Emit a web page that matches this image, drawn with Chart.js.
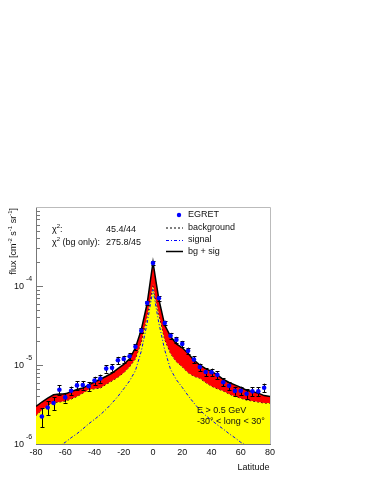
<!DOCTYPE html>
<html><head><meta charset="utf-8">
<script src="https://cdn.jsdelivr.net/npm/chart.js@4/dist/chart.umd.min.js"></script>
<style>html,body{margin:0;padding:0;background:#fff;overflow:hidden}</style>
</head><body>
<canvas id="c" width="369" height="477" style="display:block;width:369px;height:477px"></canvas>
<script>
// ---- data ----
const curveLat = [-80,-76,-72,-68,-64,-60,-56,-52,-48,-44,-40,-36,-32,-28,-24,-20,-16,-12,-8,-4,-2,0,2,4,8,12,16,20,24,28,32,36,40,44,48,52,56,60,64,68,72,76,80];
const background = [2.3e-6,2.7e-6,3.1e-6,3.35e-6,3.4e-6,3.5e-6,3.7e-6,4.0e-6,4.4e-6,4.9e-6,5.0e-6,5.1e-6,5.7e-6,6.3e-6,7.0e-6,8.0e-6,9.5e-6,1.2e-5,1.95e-5,4.2e-5,6.5e-5,1.05e-4,6.5e-5,4.4e-5,2.1e-5,1.4e-5,1.1e-5,9.5e-6,8.0e-6,7.2e-6,6.8e-6,6.0e-6,5.4e-6,5.0e-6,4.7e-6,4.3e-6,4.0e-6,3.8e-6,3.6e-6,3.5e-6,3.4e-6,3.3e-6,3.3e-6];
const bgPlusSig = [3.0e-6,3.4e-6,3.8e-6,4.2e-6,4.3e-6,4.3e-6,4.6e-6,4.9e-6,5.1e-6,5.6e-6,6.1e-6,6.6e-6,7.2e-6,7.9e-6,9.0e-6,1.02e-5,1.2e-5,1.65e-5,2.8e-5,6.0e-5,1.1e-4,2.0e-4,1.15e-4,6.8e-5,3.2e-5,2.3e-5,1.85e-5,1.65e-5,1.4e-5,1.15e-5,1.0e-5,9.0e-6,8.3e-6,7.5e-6,6.6e-6,6.0e-6,5.6e-6,5.2e-6,4.8e-6,4.6e-6,4.4e-6,4.1e-6,4.0e-6];
const signal = [6.5e-7,7.2e-7,7.8e-7,8.5e-7,9.5e-7,1.05e-6,1.2e-6,1.35e-6,1.55e-6,1.8e-6,2.05e-6,2.35e-6,2.75e-6,3.3e-6,4.0e-6,5.0e-6,6.3e-6,8.5e-6,1.5e-5,3.4e-5,5.5e-5,9.0e-5,5.5e-5,3.4e-5,1.55e-5,8.8e-6,6.5e-6,5.2e-6,4.1e-6,3.3e-6,2.7e-6,2.3e-6,2.0e-6,1.75e-6,1.55e-6,1.35e-6,1.2e-6,1.05e-6,9.5e-7,8.5e-7,7.8e-7,7.2e-7,6.5e-7];

const egretLat = [-76,-72,-68,-64,-60,-56,-52,-48,-44,-40,-36,-32,-28,-24,-20,-16,-12,-8,-4,0,4,8,12,16,20,24,28,32,36,40,44,48,52,56,60,64,68,72,76];
const egretFlux = [2.23e-6,2.9e-6,3.3e-6,4.86e-6,3.89e-6,4.73e-6,5.52e-6,5.58e-6,5.4e-6,6.35e-6,6.75e-6,9.0e-6,9.2e-6,1.15e-5,1.19e-5,1.29e-5,1.7e-5,2.72e-5,6.1e-5,1.95e-4,7.0e-5,3.4e-5,2.35e-5,2.08e-5,1.85e-5,1.51e-5,1.17e-5,9.4e-6,8.15e-6,8.1e-6,7.5e-6,6.05e-6,5.45e-6,4.7e-6,4.72e-6,4.33e-6,4.64e-6,4.64e-6,5.16e-6];
const egretErr = [0.6e-6,0.6e-6,0.6e-6,0.7e-6,0.55e-6,0.6e-6,0.7e-6,0.7e-6,0.7e-6,0.75e-6,0.8e-6,1.0e-6,1.0e-6,1.2e-6,1.2e-6,1.3e-6,1.5e-6,2.0e-6,4.0e-6,1.2e-5,4.5e-6,2.3e-6,2.0e-6,1.9e-6,1.7e-6,1.5e-6,1.2e-6,1.0e-6,0.9e-6,0.9e-6,0.85e-6,0.7e-6,0.65e-6,0.6e-6,0.6e-6,0.6e-6,0.6e-6,0.6e-6,0.65e-6];

const xTicks = [-80,-60,-40,-20,0,20,40,60,80];
const yTickValues = [1e-6,1e-5,1e-4];
const yTickExponents = ['-6','-5','-4'];
const legendLabels = ['EGRET','background','signal','bg + sig'];
const chiValues = ['45.4/44','275.8/45'];
const annotationLines = ['E > 0.5 GeV','-30\u00B0 < long < 30\u00B0'];
const xTitle = 'Latitude';

const FONT = '"Liberation Sans", Arial, Helvetica, sans-serif';
const BLUE = '#0000ff';

const pts = (xs, ys) => xs.map((x, i) => ({x: x, y: ys[i]}));

const decor = {
  id: 'decor',
  beforeDatasetsDraw(chart) {
    const ctx = chart.ctx, xs = chart.scales.x, ys = chart.scales.y, a = chart.chartArea;
    ctx.save();
    ctx.strokeStyle = '#777'; ctx.lineWidth = 1;
    ctx.beginPath();
    for (let e = -6; e < -3; e++) {
      for (let k = 1; k <= 9; k++) {
        const v = k * Math.pow(10, e);
        const py = Math.round(ys.getPixelForValue(v)) + 0.5;
        const len = k === 1 ? 7 : 4;
        ctx.moveTo(a.left, py); ctx.lineTo(a.left + len, py);
      }
    }
    for (let v = -80; v <= 80; v += 4) {
      const px = Math.round(xs.getPixelForValue(v)) + 0.5;
      const len = (v % 20 === 0) ? 7 : 4;
      ctx.moveTo(px, a.bottom); ctx.lineTo(px, a.bottom - len);
    }
    ctx.stroke();
    ctx.restore();
  },
  beforeDatasetDraw(chart, args) {
    if (args.index !== 3) return;
    const ctx = chart.ctx, xs = chart.scales.x, ys = chart.scales.y;
    ctx.save();
    ctx.strokeStyle = '#000'; ctx.lineWidth = 1;
    ctx.beginPath();
    egretLat.forEach((lat, i) => {
      const px = Math.round(xs.getPixelForValue(lat)) + 0.5;
      const y1 = ys.getPixelForValue(egretFlux[i] + egretErr[i]);
      const y2 = ys.getPixelForValue(egretFlux[i] - egretErr[i]);
      ctx.moveTo(px, y1); ctx.lineTo(px, y2);
      ctx.moveTo(px - 2, Math.round(y1) + 0.5); ctx.lineTo(px + 2, Math.round(y1) + 0.5);
      ctx.moveTo(px - 2, Math.round(y2) + 0.5); ctx.lineTo(px + 2, Math.round(y2) + 0.5);
    });
    ctx.stroke();
    ctx.restore();
  },
  afterDraw(chart) {
    const ctx = chart.ctx, xs = chart.scales.x, ys = chart.scales.y, a = chart.chartArea;
    ctx.save();
    // frame top/right
    ctx.strokeStyle = '#bbb'; ctx.lineWidth = 1;
    ctx.beginPath();
    ctx.moveTo(a.left, a.top + 0.5); ctx.lineTo(a.right + 0.5, a.top + 0.5);
    ctx.lineTo(a.right + 0.5, a.bottom);
    ctx.stroke();

    ctx.fillStyle = '#111';
    // x tick labels
    ctx.font = '9px ' + FONT; ctx.textAlign = 'center'; ctx.textBaseline = 'middle';
    xTicks.forEach(v => ctx.fillText(String(v), xs.getPixelForValue(v), 452.5));

    // y tick labels 10^n
    yTickValues.forEach((v, i) => {
      const py = ys.getPixelForValue(v);
      ctx.font = '9px ' + FONT; ctx.textAlign = 'right'; ctx.textBaseline = 'middle';
      ctx.fillText('10', 24, py + 1);
      ctx.font = '7px ' + FONT; ctx.textAlign = 'left';
      ctx.fillText(yTickExponents[i], 26, py - 7);
    });

    // y title
    const parts = [['flux [cm', 0], ['-2', 1], [' s', 0], ['-1', 1], [' sr', 0], ['-1', 1], [']', 0]];
    let total = 0;
    parts.forEach(p => { ctx.font = (p[1] ? '6px ' : '9px ') + FONT; total += ctx.measureText(p[0]).width; });
    ctx.save();
    ctx.translate(15.5, 208 + total);
    ctx.rotate(-Math.PI / 2);
    ctx.textAlign = 'left'; ctx.textBaseline = 'alphabetic';
    let x = 0;
    parts.forEach(p => {
      ctx.font = (p[1] ? '6px ' : '9px ') + FONT;
      ctx.fillText(p[0], x, p[1] ? -4 : 0);
      x += ctx.measureText(p[0]).width;
    });
    ctx.restore();

    // x title
    ctx.font = '9px ' + FONT; ctx.textAlign = 'right'; ctx.textBaseline = 'middle';
    ctx.fillText(xTitle, 269.5, 468);

    // chi2 block
    ctx.textAlign = 'left';
    const chiPrefix = [':', ' (bg only):'];
    [230, 243].forEach((cy, i) => {
      ctx.font = '9px ' + FONT;
      ctx.fillText('\u03C7', 52, cy);
      let cx = 52 + ctx.measureText('\u03C7').width;
      ctx.font = '6px ' + FONT;
      ctx.fillText('2', cx, cy - 4);
      cx += ctx.measureText('2').width;
      ctx.font = '9px ' + FONT;
      ctx.fillText(chiPrefix[i], cx, cy);
      ctx.fillText(chiValues[i], 106, cy);
    });

    // legend
    const ly = [215, 227.5, 240, 251.5];
    ctx.font = '9px ' + FONT; ctx.textAlign = 'left'; ctx.textBaseline = 'middle';
    legendLabels.forEach((t, i) => ctx.fillText(t, 188, ly[i]));
    ctx.fillStyle = BLUE;
    ctx.beginPath(); ctx.arc(179, ly[0], 2.2, 0, Math.PI * 2); ctx.fill();
    ctx.lineWidth = 1; ctx.strokeStyle = '#000'; ctx.setLineDash([2, 2]);
    ctx.beginPath(); ctx.moveTo(166, ly[1] + 0.5); ctx.lineTo(183, ly[1] + 0.5); ctx.stroke();
    ctx.strokeStyle = BLUE; ctx.setLineDash([3, 2, 1, 2]);
    ctx.beginPath(); ctx.moveTo(166, ly[2] + 0.5); ctx.lineTo(183, ly[2] + 0.5); ctx.stroke();
    ctx.setLineDash([]); ctx.strokeStyle = '#000'; ctx.lineWidth = 1.5;
    ctx.beginPath(); ctx.moveTo(166, ly[3]); ctx.lineTo(183, ly[3]); ctx.stroke();

    // annotation
    ctx.fillStyle = '#111';
    ctx.font = '9px ' + FONT;
    ctx.fillText(annotationLines[0], 197, 410.5);
    ctx.fillText(annotationLines[1], 197, 421.5);
    ctx.restore();
  }
};

new Chart(document.getElementById('c'), {
  type: 'line',
  data: {
    datasets: [
      { label: 'background', data: pts(curveLat, background), borderColor: '#000', borderWidth: 1,
        borderDash: [2, 2], backgroundColor: '#ffff00', fill: 'start', pointRadius: 0, tension: 0, order: 3 },
      { label: 'bg + sig', data: pts(curveLat, bgPlusSig), borderColor: '#000', borderWidth: 1.5,
        backgroundColor: '#ff0000', fill: '-1', pointRadius: 0, tension: 0, order: 2 },
      { label: 'signal', data: pts(curveLat, signal), borderColor: BLUE, borderWidth: 1,
        borderDash: [3, 2, 1, 2], fill: false, pointRadius: 0, tension: 0, order: 1 },
      { label: 'EGRET', data: pts(egretLat, egretFlux), showLine: false, pointRadius: 2.3,
        pointBackgroundColor: BLUE, pointBorderWidth: 0, borderColor: BLUE, order: 0 }
    ]
  },
  options: {
    responsive: false,
    devicePixelRatio: 1,
    animation: false,
    layout: { padding: { top: 207, right: 99, left: 0, bottom: 0 } },
    plugins: { legend: { display: false }, tooltip: { enabled: false } },
    scales: {
      x: {
        type: 'linear', min: -80, max: 80,
        afterFit: s => { s.height = 33; },
        afterBuildTicks: s => { s.ticks = xTicks.map(v => ({ value: v })); },
        grid: { display: false },
        border: { display: true, color: '#777', width: 1 },
        ticks: { display: false }
      },
      y: {
        type: 'logarithmic', min: 1e-6, max: 1e-3,
        afterFit: s => { s.width = 36; },
        grid: { display: false },
        border: { display: true, color: '#777', width: 1 },
        ticks: { display: false }
      }
    }
  },
  plugins: [decor]
});
</script>
</body></html>
